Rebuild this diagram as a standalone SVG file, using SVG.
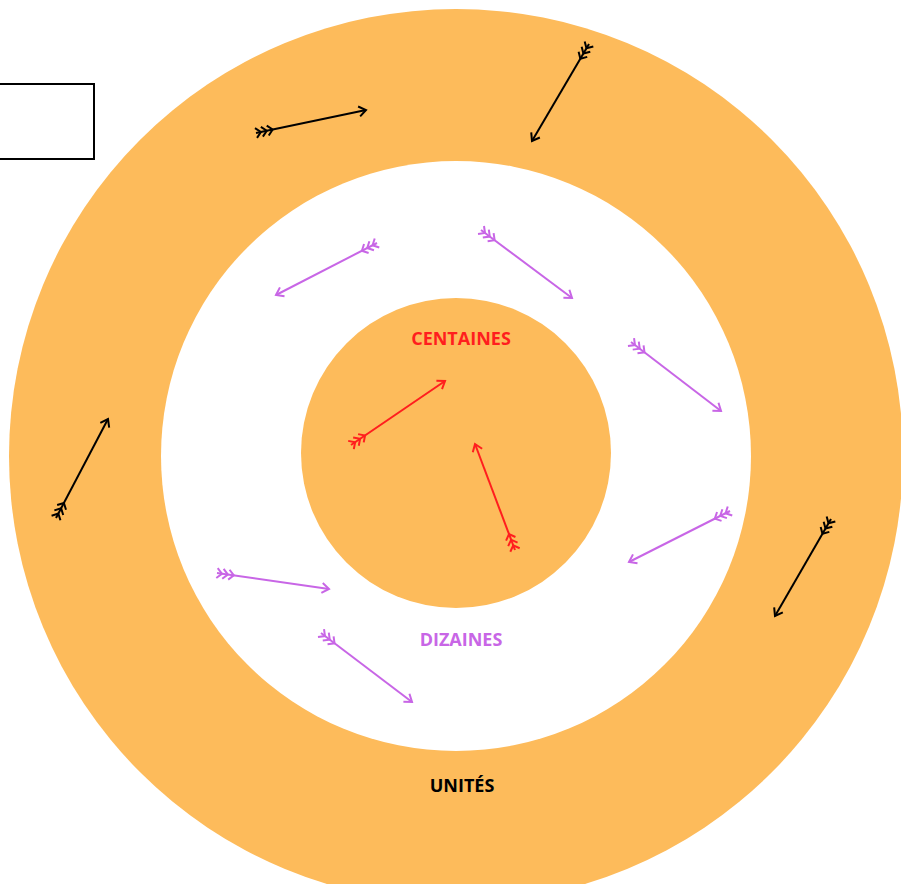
<svg xmlns="http://www.w3.org/2000/svg" width="901" height="884" viewBox="0 0 901 884">
<style>
.k{stroke:#000;fill:none;stroke-width:2}
.r{stroke:#FF1E1E;fill:none;stroke-width:2}
.p{stroke:#C866E6;fill:none;stroke-width:2}
.t{font-family:"Open Sans",sans-serif;font-weight:bold;font-size:18px;text-anchor:middle}
</style>
<defs>
<marker id="hk" markerUnits="userSpaceOnUse" markerWidth="20" markerHeight="20" refX="0" refY="0" viewBox="-10 -10 20 20" orient="auto" overflow="visible"><path d="M-7,-5 L0,0 L-7,5" fill="none" stroke="#000" stroke-width="2"/></marker>
<marker id="fk" markerUnits="userSpaceOnUse" markerWidth="30" markerHeight="20" refX="0" refY="0" viewBox="-5 -10 30 20" orient="auto" overflow="visible"><path d="M0,-5 L5,0 L0,5 M6,-5 L11,0 L6,5 M12,-5 L17,0 L12,5" fill="none" stroke="#000" stroke-width="2"/></marker>
<marker id="hr" markerUnits="userSpaceOnUse" markerWidth="20" markerHeight="20" refX="0" refY="0" viewBox="-10 -10 20 20" orient="auto" overflow="visible"><path d="M-7,-5 L0,0 L-7,5" fill="none" stroke="#FF1E1E" stroke-width="2"/></marker>
<marker id="fr" markerUnits="userSpaceOnUse" markerWidth="30" markerHeight="20" refX="0" refY="0" viewBox="-5 -10 30 20" orient="auto" overflow="visible"><path d="M0,-5 L5,0 L0,5 M6,-5 L11,0 L6,5 M12,-5 L17,0 L12,5" fill="none" stroke="#FF1E1E" stroke-width="2"/></marker>
<marker id="hp" markerUnits="userSpaceOnUse" markerWidth="20" markerHeight="20" refX="0" refY="0" viewBox="-10 -10 20 20" orient="auto" overflow="visible"><path d="M-7,-5 L0,0 L-7,5" fill="none" stroke="#C866E6" stroke-width="2"/></marker>
<marker id="fp" markerUnits="userSpaceOnUse" markerWidth="30" markerHeight="20" refX="0" refY="0" viewBox="-5 -10 30 20" orient="auto" overflow="visible"><path d="M0,-5 L5,0 L0,5 M6,-5 L11,0 L6,5 M12,-5 L17,0 L12,5" fill="none" stroke="#C866E6" stroke-width="2"/></marker>
</defs>
<rect width="901" height="884" fill="#fff"/>
<g id="unites"><circle cx="456" cy="456" r="447" fill="#FDBB5B"/></g>
<g id="dizaines"><circle cx="456" cy="456" r="295" fill="#fff"/></g>
<g id="centaines"><circle cx="456" cy="453" r="155" fill="#FDBB5B"/></g>
<g id="box"><rect x="-5" y="84" width="99" height="75" fill="#fff" stroke="#000" stroke-width="2"/></g>
<g id="labels">
<text class="t" x="461" y="345" fill="#FF1E1E">CENTAINES</text>
<text class="t" x="461" y="646" fill="#C866E6">DIZAINES</text>
<text class="t" x="462" y="792" fill="#000">UNITÉS</text>
</g>
<g id="connectors">
<path class="k" d="M256,133 L366,110" marker-start="url(#fk)" marker-end="url(#hk)"/>
<path class="k" d="M589,44 L532,141" marker-start="url(#fk)" marker-end="url(#hk)"/>
<path class="k" d="M56,518 L108,419" marker-start="url(#fk)" marker-end="url(#hk)"/>
<path class="k" d="M831,519 L775,616" marker-start="url(#fk)" marker-end="url(#hk)"/>
<path class="r" d="M351,445 L445,381" marker-start="url(#fr)" marker-end="url(#hr)"/>
<path class="r" d="M515,550 L475,444" marker-start="url(#fr)" marker-end="url(#hr)"/>
<path class="p" d="M377,243 L276,295" marker-start="url(#fp)" marker-end="url(#hp)"/>
<path class="p" d="M481,230 L572,298" marker-start="url(#fp)" marker-end="url(#hp)"/>
<path class="p" d="M631,342 L721,411" marker-start="url(#fp)" marker-end="url(#hp)"/>
<path class="p" d="M730,511 L629,562" marker-start="url(#fp)" marker-end="url(#hp)"/>
<path class="p" d="M217,573 L329,589" marker-start="url(#fp)" marker-end="url(#hp)"/>
<path class="p" d="M321,633 L412,702" marker-start="url(#fp)" marker-end="url(#hp)"/>
</g>
</svg>
